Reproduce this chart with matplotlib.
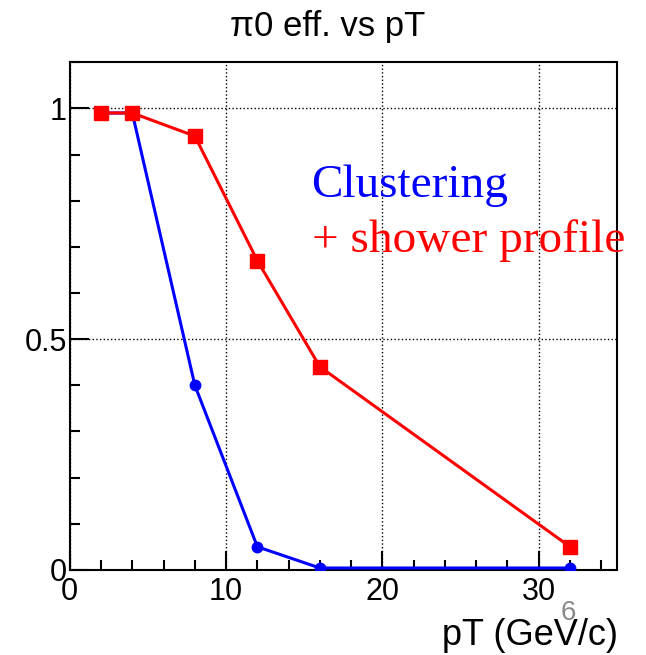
import numpy as np
import matplotlib.pyplot as plt
from matplotlib.ticker import MultipleLocator

# pT points (GeV/c) and efficiencies
pt = [2, 4, 8, 12, 16, 32]
eff_shower = [0.99, 0.99, 0.94, 0.67, 0.44, 0.05]
eff_cluster = [0.99, 0.99, 0.40, 0.05, 0.004, 0.004]

x_ticks = [0, 10, 20, 30]
y_ticks = [0, 0.5, 1]
y_tick_labels = ["0", "0.5", "1"]

plt.rcParams['font.family'] = ['Liberation Sans', 'DejaVu Sans']

fig = plt.figure(figsize=(6.46, 6.55), dpi=100)
ax = fig.add_axes([0.108, 0.13, 0.847, 0.775])

ax.plot(pt, eff_cluster, color='#0000ff', lw=2.2, marker='o', ms=7.5, zorder=3)
ax.plot(pt, eff_shower, color='#ff0000', lw=2.2, marker='s', ms=10, zorder=4)

ax.set_xlim(0, 35)
ax.set_ylim(0, 1.1)

ax.xaxis.set_major_locator(MultipleLocator(10))
ax.xaxis.set_minor_locator(MultipleLocator(2))
ax.yaxis.set_major_locator(MultipleLocator(0.5))
ax.yaxis.set_minor_locator(MultipleLocator(0.1))
ax.set_xticks(x_ticks)
ax.set_yticks(y_ticks)
ax.set_yticklabels(y_tick_labels)

ax.tick_params(which='both', direction='in', labelsize=22, width=1.5)
ax.tick_params(which='major', length=14)
ax.tick_params(which='minor', length=7)
ax.tick_params(axis='y', pad=2)
ax.tick_params(axis='x', pad=5)

ax.grid(True, which='major', color='black', ls=':', lw=1)
for s in ax.spines.values():
    s.set_linewidth(1.5)

fig.text(0.507, 0.959, "\u03c00 eff. vs pT", ha='center', va='center', fontsize=25)

fig.text(0.957, 0.015, "pT (GeV/c)", ha='right', va='baseline', fontsize=26)
fig.text(0.879, 0.053, "6", ha='center', va='baseline', fontsize=20, color='#888888')

ax.text(0.442, 0.734, "Clustering", transform=ax.transAxes, color='#0000ff',
        fontsize=34, family='Liberation Serif', va='baseline')
ax.text(0.442, 0.626, "+ shower profile", transform=ax.transAxes, color='#ff0000',
        fontsize=34, family='Liberation Serif', va='baseline', zorder=5)

plt.savefig("out.png", dpi=100)
